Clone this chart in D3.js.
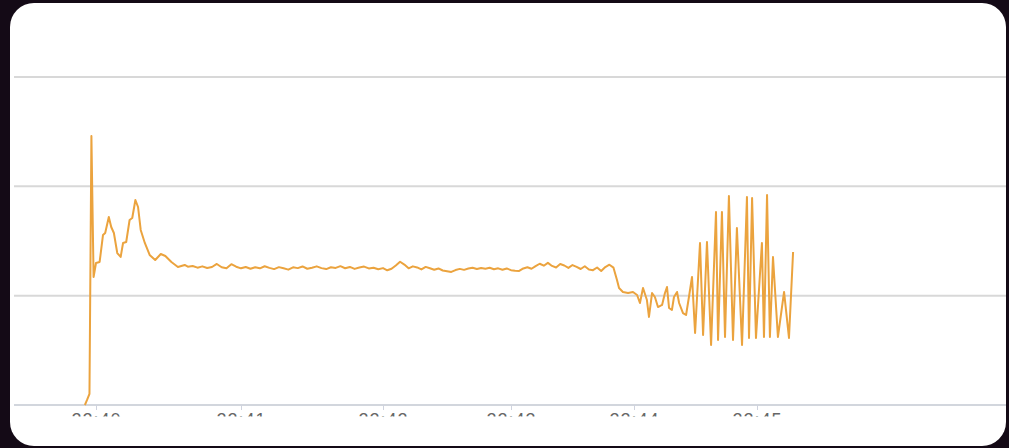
<!DOCTYPE html>
<html>
<head>
<meta charset="utf-8">
<script src="https://cdn.jsdelivr.net/npm/d3@7/dist/d3.min.js"></script>
<style>
  html, body { margin: 0; padding: 0; background: #140a16; overflow: hidden; }
  svg { display: block; }
</style>
</head>
<body>
<svg id="chart" width="1009" height="448"></svg>
<script>
// ---- data (seconds after 22:40:00, and measured value) ----
const tickLabels = ["22:40", "22:41", "22:42", "22:43", "22:44", "22:45"];
const yTicks = [0, 100, 200, 300];

const startSeconds = [-4.6, -3.7, -2.7, -1.9, -1.0, 0, 1.5, 2.9, 3.8, 5.3, 6.3, 7.4, 8.8, 10.2, 11.2, 12.5, 13.9, 15.0, 16.3, 17.4, 18.5, 20.2, 22.2, 24.5, 26.8, 28.7, 31.2, 33.9, 36.7];
const startValues  = [0, 4.6, 10.1, 246.0, 117.1, 129.9, 130.8, 155.5, 157.3, 172.0, 162.8, 157.3, 139.0, 135.4, 148.2, 149.1, 169.2, 171.0, 187.5, 181.1, 160.1, 148.2, 137.2, 132.6, 138.1, 136.3, 130.8, 126.2, 128.1];

const steadySeconds = [38, 40, 42, 44, 46, 48, 50, 52, 54, 56, 58, 60, 62, 64, 66, 68, 70, 72, 74, 76, 78, 80, 82, 84, 86, 88, 90, 92, 94, 96, 98, 100, 102, 104, 106, 108, 110, 112, 114, 116, 118, 120, 122, 124, 126, 128, 130, 132, 134, 136, 138, 140, 142, 144, 146, 148, 150, 152, 154, 156, 158, 160, 162, 164, 166, 168, 170, 172, 174, 176, 178, 180, 182, 184, 186, 188, 190, 192, 194, 196, 198, 200, 202, 204, 206, 208, 210, 212, 214, 216, 218, 220, 222, 224, 226, 228, 230];
const steadyValues  = [126.5, 127.1, 125.6, 126.8, 125.3, 126.2, 129.0, 126.0, 125.1, 128.8, 126.5, 125.0, 126.2, 124.6, 126.0, 125.0, 126.9, 125.4, 124.3, 126.1, 125.0, 123.8, 125.9, 125.2, 126.7, 124.6, 125.6, 126.8, 125.2, 124.3, 126.0, 125.4, 127.0, 125.1, 126.3, 124.5, 125.8, 126.6, 124.9, 125.6, 124.2, 125.2, 123.2, 124.6, 127.6, 131.0, 128.4, 125.0, 126.8, 125.8, 124.0, 126.3, 125.1, 123.7, 124.9, 123.0, 122.4, 121.7, 123.4, 124.5, 123.6, 124.8, 125.6, 124.4, 125.3, 124.7, 125.5, 124.2, 125.0, 123.7, 124.9, 123.3, 122.8, 122.6, 124.9, 126.0, 124.6, 127.0, 129.2, 127.4, 130.0, 127.2, 125.8, 128.9, 127.6, 125.4, 128.0, 126.3, 124.4, 126.9, 124.0, 123.3, 125.8, 122.5, 126.2, 128.3, 125.6];

const endSeconds = [231.7, 232.7, 234.6, 237.1, 239.5, 241.5, 242.9, 244.4, 246.3, 247.3, 248.8, 250.2, 251.7, 253.7, 255.1, 256.1, 257.1, 258.5, 259.5, 261.0, 262.0, 263.9, 265.4, 266.8, 268.3, 269.8, 272.2, 273.7, 275.6, 277.6, 280.0, 281.0, 282.9, 284.4, 286.3, 288.3, 290.2, 292.7, 295.1, 296.1, 297.6, 299.5, 302.4, 303.4, 304.9, 306.3, 307.8, 310.2, 313.2, 315.6, 317.6];
const endValues  = [114.3, 107.0, 103.4, 102.4, 103.4, 100.6, 93.3, 107.0, 96.0, 80.5, 102.4, 98.8, 89.6, 91.5, 102.4, 107.9, 88.7, 86.9, 98.8, 103.4, 93.3, 84.1, 82.3, 98.8, 117.1, 65.9, 148.2, 64.0, 149.1, 54.9, 176.5, 59.5, 176.5, 62.2, 191.2, 59.5, 161.9, 54.9, 190.2, 61.3, 189.3, 61.3, 148.2, 62.2, 192.1, 62.2, 135.4, 62.2, 103.4, 61.3, 139.9];

// ---- build ----
const base = new Date(2024, 0, 1, 22, 40, 0).getTime();
const toDate = s => new Date(base + s * 1000);
const seconds = startSeconds.concat(steadySeconds, endSeconds);
const values = startValues.concat(steadyValues, endValues);
const data = seconds.map((s, i) => ({ t: toDate(s), v: values[i] }));
const tickDates = tickLabels.map(l => { const [h, m] = l.split(":").map(Number); return new Date(2024, 0, 1, h, m, 0); });

const svg = d3.select("#chart");

// panel
svg.append("rect").attr("x", 10).attr("y", 3).attr("width", 996).attr("height", 443)
  .attr("rx", 24).attr("ry", 24).attr("fill", "#ffffff");

// scales (screen capture has uneven minute spacing -> polylinear time scale)
const x = d3.scaleTime().domain(tickDates).range([96, 241, 383, 511, 634, 757]);
const y = d3.scaleLinear().domain([0, 300]).range([405, 77]);

// gridlines
svg.append("g").selectAll("line").data(yTicks).join("line")
  .attr("x1", 14).attr("x2", 1006)
  .attr("y1", d => y(d)).attr("y2", d => y(d))
  .attr("stroke", d => d === 0 ? "#d2d6dd" : "#d8d8d8")
  .attr("stroke-width", 2);

// x axis (labels clipped like the screenshot)
const defs = svg.append("defs");
defs.append("clipPath").attr("id", "axisClip").append("rect")
  .attr("x", 0).attr("y", 400).attr("width", 1009).attr("height", 16.5);

const clipG = svg.append("g").attr("clip-path", "url(#axisClip)");
const axisG = clipG.append("g")
  .attr("transform", `translate(0,${y(0)})`)
  .call(d3.axisBottom(x).tickValues(tickDates).tickFormat((d, i) => tickLabels[i]).tickSize(5).tickPadding(3));
axisG.select(".domain").remove();
axisG.selectAll(".tick line").attr("stroke", "#cfd3de").attr("stroke-width", 1);
axisG.selectAll(".tick text")
  .attr("fill", "#666")
  .style("font-family", "Liberation Sans, Arial, sans-serif")
  .style("font-size", "18px")
  .style("letter-spacing", "1px");

// line
const line = d3.line().x(d => x(d.t)).y(d => y(d.v));
svg.append("path").datum(data)
  .attr("d", line)
  .attr("fill", "none")
  .attr("stroke", "#eba33e")
  .attr("stroke-width", 2)
  .attr("stroke-linejoin", "round");
</script>
</body>
</html>
